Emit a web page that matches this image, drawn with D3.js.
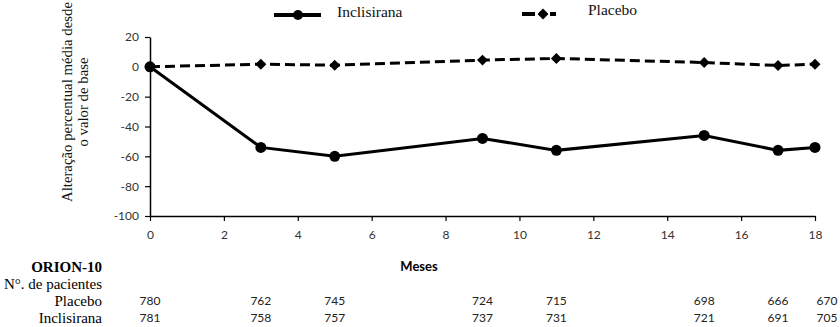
<!DOCTYPE html>
<html><head><meta charset="utf-8">
<script src="https://cdn.jsdelivr.net/npm/d3@7"></script>
<style>body{margin:0;background:#fff}svg{display:block}</style>
</head><body>
<svg id="c" width="840" height="327"></svg>
<script>
const months = [0, 3, 5, 9, 11, 15, 17, 18];
const inclisirana = [0, -54, -60, -48, -56, -46, -56, -54];
const placebo = [0, 1.8, 1.1, 4.5, 5.6, 2.9, 0.9, 1.8];
const nPlacebo = [780, 762, 745, 724, 715, 698, 666, 670];
const nInclisirana = [781, 758, 757, 737, 731, 721, 691, 705];
const xTicks = [0, 2, 4, 6, 8, 10, 12, 14, 16, 18];
const yTicks = [20, 0, -20, -40, -60, -80, -100];
const yTitle = ["Alteração percentual média desde", "o valor de base"];
const seriesNames = ["Inclisirana", "Placebo"];

const svg = d3.select("#c");
const x = d3.scaleLinear().domain([0, 18]).range([150, 815]);
const y = d3.scaleLinear().domain([-100, 20]).range([216, 37]);

const tickFont = "Lato, 'Open Sans', sans-serif";
const serif = "'Liberation Serif', 'Times New Roman', serif";
const fmt = d => String(d);

// axes
const xAxis = svg.append("g").attr("transform", `translate(0,${y(-100)})`)
  .call(d3.axisBottom(x).tickValues(xTicks).tickFormat(fmt).tickSize(5).tickSizeOuter(0).tickPadding(9));
const yAxis = svg.append("g").attr("transform", `translate(${x(0)},0)`)
  .call(d3.axisLeft(y).tickValues(yTicks).tickFormat(fmt).tickSize(5).tickSizeOuter(0).tickPadding(6));
[xAxis, yAxis].forEach(a => {
  a.select(".domain").attr("stroke", "#000").attr("stroke-width", 1.5);
  a.selectAll(".tick line").attr("stroke", "#000").attr("stroke-width", 1.2);
  a.selectAll(".tick text").attr("fill", "#333").style("font-family", tickFont).style("font-size", "12px");
});

// y title
const yt = svg.append("text").attr("transform", "translate(68,102) rotate(-90)")
  .attr("text-anchor", "middle").style("font-family", serif).style("font-size", "14.8px").attr("fill", "#111");
yTitle.forEach((t, i) => yt.append("tspan").attr("x", 0).attr("dy", i === 0 ? 4 : 16).text(t));

// lines
const line = d3.line().x(d => x(d[0])).y(d => y(d[1]));
const incData = months.map((m, i) => [m, inclisirana[i]]);
const plaData = months.map((m, i) => [m, placebo[i]]);

svg.append("path").datum(plaData).attr("d", line).attr("fill", "none")
  .attr("stroke", "#000").attr("stroke-width", 3).attr("stroke-dasharray", "10,5");
svg.append("path").datum(incData).attr("d", line).attr("fill", "none")
  .attr("stroke", "#000").attr("stroke-width", 3);

const diamond = d3.symbol().type(d3.symbolSquare).size(60);
svg.selectAll(".pd").data(plaData).join("path").attr("class", "pd")
  .attr("d", diamond).attr("transform", d => `translate(${x(d[0])},${y(d[1])}) rotate(45)`).attr("fill", "#000");
svg.selectAll(".ic").data(incData).join("circle").attr("class", "ic")
  .attr("cx", d => x(d[0])).attr("cy", d => y(d[1])).attr("r", 5.5).attr("fill", "#000");

// legend
const lg = svg.append("g");
lg.append("line").attr("x1", 274).attr("x2", 321).attr("y1", 15).attr("y2", 15).attr("stroke", "#000").attr("stroke-width", 4);
lg.append("circle").attr("cx", 298).attr("cy", 15).attr("r", 5).attr("fill", "#000");
lg.append("text").attr("x", 337).attr("y", 17).text(seriesNames[0]).style("font-family", serif).style("font-size", "15.5px").attr("fill", "#111");
lg.append("line").attr("x1", 522).attr("x2", 569).attr("y1", 14).attr("y2", 14).attr("stroke", "#000").attr("stroke-width", 4).attr("stroke-dasharray", "13,4,6,5,6");
lg.append("path").attr("d", diamond).attr("transform", "translate(543,14) rotate(45)").attr("fill", "#000");
lg.append("text").attr("x", 588).attr("y", 15).text(seriesNames[1]).style("font-family", serif).style("font-size", "15.5px").attr("fill", "#111");

// x label
svg.append("text").attr("x", 419).attr("y", 271).attr("text-anchor", "middle").text("Meses")
  .style("font-family", tickFont).style("font-weight", "bold").style("font-size", "13px").attr("fill", "#000");

// table
const tl = [["ORION-10", 272, true], ["N°. de pacientes", 289, false], ["Placebo", 306, false], ["Inclisirana", 323, false]];
tl.forEach(([t, yy, b]) => svg.append("text").attr("x", 102).attr("y", yy).attr("text-anchor", "end").text(t)
  .style("font-family", serif).style("font-size", "15px").style("font-weight", b ? "bold" : "normal").attr("fill", "#000"));

const rows = [[nPlacebo, 305], [nInclisirana, 322]];
rows.forEach(([vals, yy]) => {
  svg.selectAll(null).data(vals).join("text")
    .attr("x", (d, i) => x(months[i]) + (i === months.length - 1 ? 12 : 0))
    .attr("y", yy).attr("text-anchor", "middle").text(d => d)
    .style("font-family", tickFont).style("font-size", "12px").attr("fill", "#222");
});
</script>
</body></html>
